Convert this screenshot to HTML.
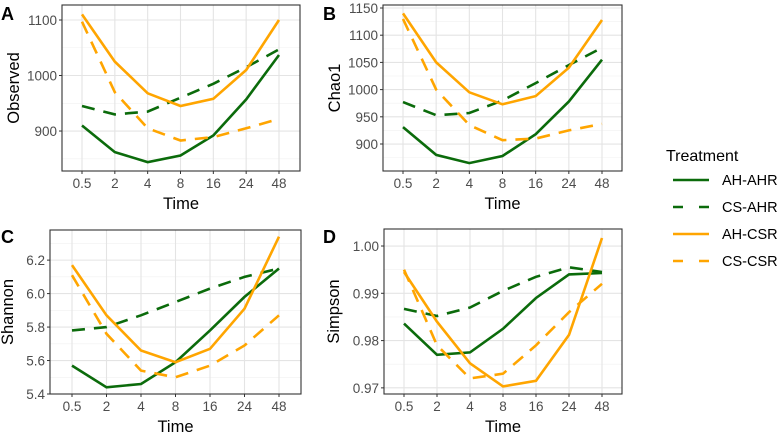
<!DOCTYPE html>
<html><head><meta charset="utf-8"><style>
body{margin:0;background:#fff;font-family:"Liberation Sans",sans-serif}
svg text{font-family:"Liberation Sans",sans-serif}
</style></head><body>
<svg id="chart" width="784" height="439" xmlns="http://www.w3.org/2000/svg"></svg>
<script>
const times = ["0.5","2","4","8","16","24","48"];
const seriesNames = ["AH-AHR","CS-AHR","AH-CSR","CS-CSR"];
const observedAHAHR = [910,862,844,856,892,957,1037];
const observedCSAHR = [945,930,935,960,985,1015,1047];
const observedAHCSR = [1110,1025,968,945,958,1010,1100];
const observedCSCSR = [1097,970,905,883,889,905,922];
const chaoAHAHR = [931,880,865,878,918,978,1055];
const chaoCSAHR = [977,953,957,980,1012,1045,1077];
const chaoAHCSR = [1140,1050,995,973,988,1040,1128];
const chaoCSCSR = [1130,1000,935,907,910,925,937];
const shannonAHAHR = [5.57,5.44,5.46,5.59,5.78,5.98,6.15];
const shannonCSAHR = [5.78,5.80,5.87,5.95,6.03,6.10,6.15];
const shannonAHCSR = [6.17,5.87,5.66,5.59,5.67,5.91,6.34];
const shannonCSCSR = [6.11,5.76,5.54,5.50,5.57,5.69,5.87];
const simpsonAHAHR = [0.9836,0.977,0.9775,0.9825,0.989,0.994,0.9943];
const simpsonCSAHR = [0.9867,0.9852,0.987,0.9905,0.9935,0.9955,0.9945];
const simpsonAHCSR = [0.9945,0.984,0.9752,0.9703,0.9715,0.9812,1.0017];
const simpsonCSCSR = [0.995,0.979,0.972,0.973,0.979,0.986,0.992];
const observedTicks = [900,1000,1100];
const chaoTicks = [900,950,1000,1050,1100,1150];
const shannonTicks = [5.4,5.6,5.8,6.0,6.2];
const simpsonTicks = [0.97,0.98,0.99,1.00];

const NS="http://www.w3.org/2000/svg";
const svg=document.getElementById('chart');
function mk(tag,attrs,parent){const e=document.createElementNS(NS,tag);for(const k in attrs)e.setAttribute(k,attrs[k]);(parent||svg).appendChild(e);return e;}
const colors=["#0b6b0b","#0b6b0b","#ffa500","#ffa500"];
const dashes=["none","13 9","none","13 9"];

function panel(p){
  const g=mk('g',{});
  
  
  const xs=i=>p.x0+(p.x1-p.x0)*i/(times.length-1);
  const ys=v=>p.top+(p.ymax-v)/(p.ymax-p.ymin)*(p.bottom-p.top);
  for(let i=0;i<p.ticks.length-1;i++){const m=(p.ticks[i]+p.ticks[i+1])/2;mk('line',{x1:p.l,x2:p.r,y1:ys(m),y2:ys(m),stroke:'#f0f0f0','stroke-width':0.6},g);}
  const below=p.ticks[0]-(p.ticks[1]-p.ticks[0])/2;
  if(ys(below)<p.bottom)mk('line',{x1:p.l,x2:p.r,y1:ys(below),y2:ys(below),stroke:'#f0f0f0','stroke-width':0.6},g);
  const above=p.ticks[p.ticks.length-1]+(p.ticks[1]-p.ticks[0])/2;
  if(ys(above)>p.top)mk('line',{x1:p.l,x2:p.r,y1:ys(above),y2:ys(above),stroke:'#f0f0f0','stroke-width':0.6},g);
  p.ticks.forEach(t=>{
    const y=ys(t);
    mk('line',{x1:p.l,x2:p.r,y1:y,y2:y,stroke:'#e4e4e4','stroke-width':1.1},g);
    mk('line',{x1:p.l-3,x2:p.l,y1:y,y2:y,stroke:'#333','stroke-width':1},g);
    const tx=mk('text',{x:p.l-5,y:y+5,'text-anchor':'end','font-size':13.5,fill:'#4d4d4d'},g);
    tx.textContent=p.fmt(t);
    
    
  });
  times.forEach((t,i)=>{
    const x=xs(i);
    mk('line',{x1:x,x2:x,y1:p.top,y2:p.bottom,stroke:'#e4e4e4','stroke-width':1.1},g);
    mk('line',{x1:x,x2:x,y1:p.bottom,y2:p.bottom+3,stroke:'#333','stroke-width':1},g);
    const tx=mk('text',{x:x,y:p.bottom+17,'text-anchor':'middle','font-size':13.5,fill:'#4d4d4d'},g);
    tx.textContent=t;
    
    
  });
  p.data.forEach((d,s)=>{
    const pts=d.map((v,i)=>xs(i).toFixed(1)+','+ys(v).toFixed(1)).join(' ');
    const pl=mk('polyline',{points:pts,fill:'none',stroke:colors[s],'stroke-width':2.6,'stroke-dasharray':dashes[s]},g);
    
    
  });
  mk('rect',{x:p.l,y:p.top,width:p.r-p.l,height:p.bottom-p.top,fill:'none',stroke:'#333','stroke-width':1.1},g);
  const xt=mk('text',{x:(p.l+p.r)/2,y:p.bottom+38,'text-anchor':'middle','font-size':16.5,fill:'#000'},g);
  xt.textContent='Time';
  
  
  const cy=(p.top+p.bottom)/2;
  const yt=mk('text',{x:p.ytx,y:cy,'text-anchor':'middle','font-size':16.5,fill:'#000',transform:`rotate(-90 ${p.ytx} ${cy})`},g);
  yt.textContent=p.ylabel;
  
  
  const lt=mk('text',{x:p.lx,y:p.ly,'font-size':18,'font-weight':'bold',fill:'#000'},g);
  lt.textContent=p.letter;
  
  
}
panel({name:'observed',letter:'A',ylabel:'Observed',l:62,r:300,top:5,bottom:171,x0:82,x1:279,ymin:828,ymax:1127,ticks:observedTicks,fmt:v=>String(v),data:[observedAHAHR,observedCSAHR,observedAHCSR,observedCSCSR],ytx:19,lx:1,ly:20});
panel({name:'chao1',letter:'B',ylabel:'Chao1',l:383,r:622,top:5,bottom:171,x0:403,x1:602,ymin:850.4,ymax:1155.5,ticks:chaoTicks,fmt:v=>String(v),data:[chaoAHAHR,chaoCSAHR,chaoAHCSR,chaoCSCSR],ytx:340,lx:323,ly:20});
panel({name:'shannon',letter:'C',ylabel:'Shannon',l:50,r:301,top:230,bottom:394,x0:72,x1:279,ymin:5.4,ymax:6.38,ticks:shannonTicks,fmt:v=>v.toFixed(1),data:[shannonAHAHR,shannonCSAHR,shannonAHCSR,shannonCSCSR],ytx:13,lx:1,ly:243});
panel({name:'simpson',letter:'D',ylabel:'Simpson',l:384,r:622,top:229,bottom:394,x0:404,x1:602,ymin:0.9687,ymax:1.0036,ticks:simpsonTicks,fmt:v=>v.toFixed(2),data:[simpsonAHAHR,simpsonCSAHR,simpsonAHCSR,simpsonCSCSR],ytx:339,lx:323,ly:243});

const lg=mk('g',{});


const ttl=mk('text',{x:666,y:161,'font-size':16,fill:'#000'},lg);
ttl.textContent='Treatment';
seriesNames.forEach((n,i)=>{
  const y=180+i*27;
  const e=mk('g',{},lg);
  
  
  mk('line',{x1:673,x2:709,y1:y,y2:y,stroke:colors[i],'stroke-width':2.6,'stroke-dasharray':dashes[i]==='none'?'none':'10 16'},e);
  const t=mk('text',{x:722,y:y+5,'font-size':14.5,fill:'#000'},e);
  t.textContent=n;
});
</script>
</body></html>
